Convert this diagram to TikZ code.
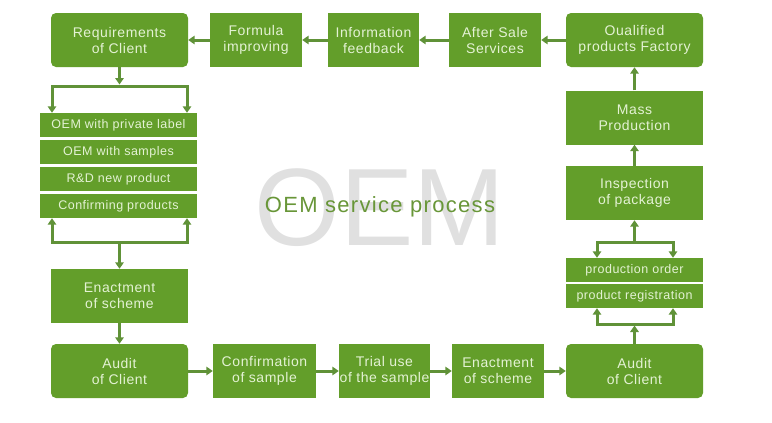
\documentclass[tikz,border=0pt]{standalone}
\usepackage{fontspec}
\setmainfont{Liberation Sans}
\newfontfamily\boxfont[LetterSpace=4]{Liberation Sans}
\newfontfamily\titlefont[LetterSpace=6]{Liberation Sans}
\usetikzlibrary{arrows.meta}
\definecolor{boxgreen}{RGB}{99,158,42}
\definecolor{arrowgreen}{RGB}{96,146,56}
\definecolor{boxtext}{RGB}{228,242,212}
\definecolor{titlegreen}{RGB}{104,150,56}
\definecolor{watermark}{RGB}{224,224,224}
\tikzset{>={Triangle[width=8.5pt,length=6.5pt]}}

\begin{document}
\begin{tikzpicture}[x=1pt,y=-1pt,
    box/.style={fill=boxgreen,text=boxtext,minimum height=54pt,inner sep=0pt,
      align=center,font=\boxfont\fontsize{14}{16}\selectfont},
    rbox/.style={box,rounded corners=5pt},
    rowbox/.style={box,minimum height=24pt,font=\boxfont\fontsize{12.5}{14}\selectfont},
    flowline/.style={draw=arrowgreen,line width=3pt},
    flow/.style={flowline,->},
    fork/.style={flowline,<->}]
        \useasboundingbox (0,0) rectangle (772,423);
        % Watermark and title
        \node[text=watermark,font=\fontsize{110}{110}\selectfont,anchor=base,inner sep=0pt] (mark) at (380,245) {OEM};
        \node[text=titlegreen,font=\titlefont\fontsize{22}{26}\selectfont,anchor=base,inner sep=0pt] (title) at (380,212) {OEM service process};
        % Top row
        \node[rbox,minimum width=137pt] (req) at (119.5,40) {Requirements\\of Client};
        \node[box,minimum width=92pt] (formula) at (256,40) {Formula\\improving};
        \node[box,minimum width=91pt] (info) at (373.5,40) {Information\\feedback};
        \node[box,minimum width=92pt] (after) at (495,40) {After Sale\\Services};
        \node[rbox,minimum width=137pt] (qual) at (634.5,40) {Oualified\\products Factory};
        % Left column
        \node[rowbox,minimum width=157pt] (row1) at (118.5,125) {OEM with private label};
        \node[rowbox,minimum width=157pt] (row2) at (118.5,152) {OEM with samples};
        \node[rowbox,minimum width=157pt] (row3) at (118.5,179) {R\&D new product};
        \node[rowbox,minimum width=157pt] (row4) at (118.5,206) {Confirming products};
        \node[box,minimum width=137pt] (enactL) at (119.5,296) {Enactment\\of scheme};
        % Bottom row
        \node[rbox,minimum width=137pt] (auditL) at (119.5,371) {Audit\\of Client};
        \node[box,minimum width=103pt] (confirm) at (264.5,371) {Confirmation\\of sample};
        \node[box,minimum width=91pt] (trial) at (384.5,371) {Trial use\\of the sample};
        \node[box,minimum width=92pt] (enactB) at (498,371) {Enactment\\of scheme};
        \node[rbox,minimum width=137pt] (auditR) at (634.5,371) {Audit\\of Client};
        % Right column
        \node[rowbox,minimum width=137pt] (order) at (634.5,270) {production order};
        \node[rowbox,minimum width=137pt] (regist) at (634.5,296) {product registration};
        \node[box,minimum width=137pt] (insp) at (634.5,193) {Inspection\\of package};
        \node[box,minimum width=137pt] (mass) at (634.5,117.5) {Mass\\Production};
        % Fork points
        \coordinate (ltopL) at (52,86);
        \coordinate (ltopM) at (119.5,86);
        \coordinate (ltopR) at (187,86);
        \coordinate (lbotL) at (52,242);
        \coordinate (lbotM) at (119.5,242);
        \coordinate (lbotR) at (187,242);
        \coordinate (rtopL) at (597,242);
        \coordinate (rtopM) at (634.5,242);
        \coordinate (rtopR) at (673,242);
        \coordinate (rbotL) at (597,324);
        \coordinate (rbotM) at (634.5,324);
        \coordinate (rbotR) at (673,324);
        % Top row flow, right to left
        \draw[flow] (formula) -- (req);
        \draw[flow] (info) -- (formula);
        \draw[flow] (after) -- (info);
        \draw[flow] (qual) -- (after);
        % Left column flow
        \draw[flow,shorten >=1.5pt] (req) -- (ltopM);
        \draw[fork] (row1.north -| ltopL) -- (ltopL) -- (ltopR) -- (row1.north -| ltopR);
        \draw[fork] (row4.south -| lbotL) -- (lbotL) -- (lbotR) -- (row4.south -| lbotR);
        \draw[flow] (lbotM) -- (enactL);
        \draw[flow] (enactL) -- (auditL);
        % Bottom row flow
        \draw[flow] (auditL) -- (confirm);
        \draw[flow] (confirm) -- (trial);
        \draw[flow] (trial) -- (enactB);
        \draw[flow] (enactB) -- (auditR);
        % Right column flow, upwards
        \draw[flow,shorten >=1.5pt] (auditR) -- (rbotM);
        \draw[fork] (regist.south -| rbotL) -- (rbotL) -- (rbotR) -- (regist.south -| rbotR);
        \draw[fork] (order.north -| rtopL) -- (rtopL) -- (rtopR) -- (order.north -| rtopR);
        \draw[flow] (rtopM) -- (insp);
        \draw[flow] (insp) -- (mass);
        \draw[flow] (mass) -- (qual);
    \end{tikzpicture}
\end{document}
